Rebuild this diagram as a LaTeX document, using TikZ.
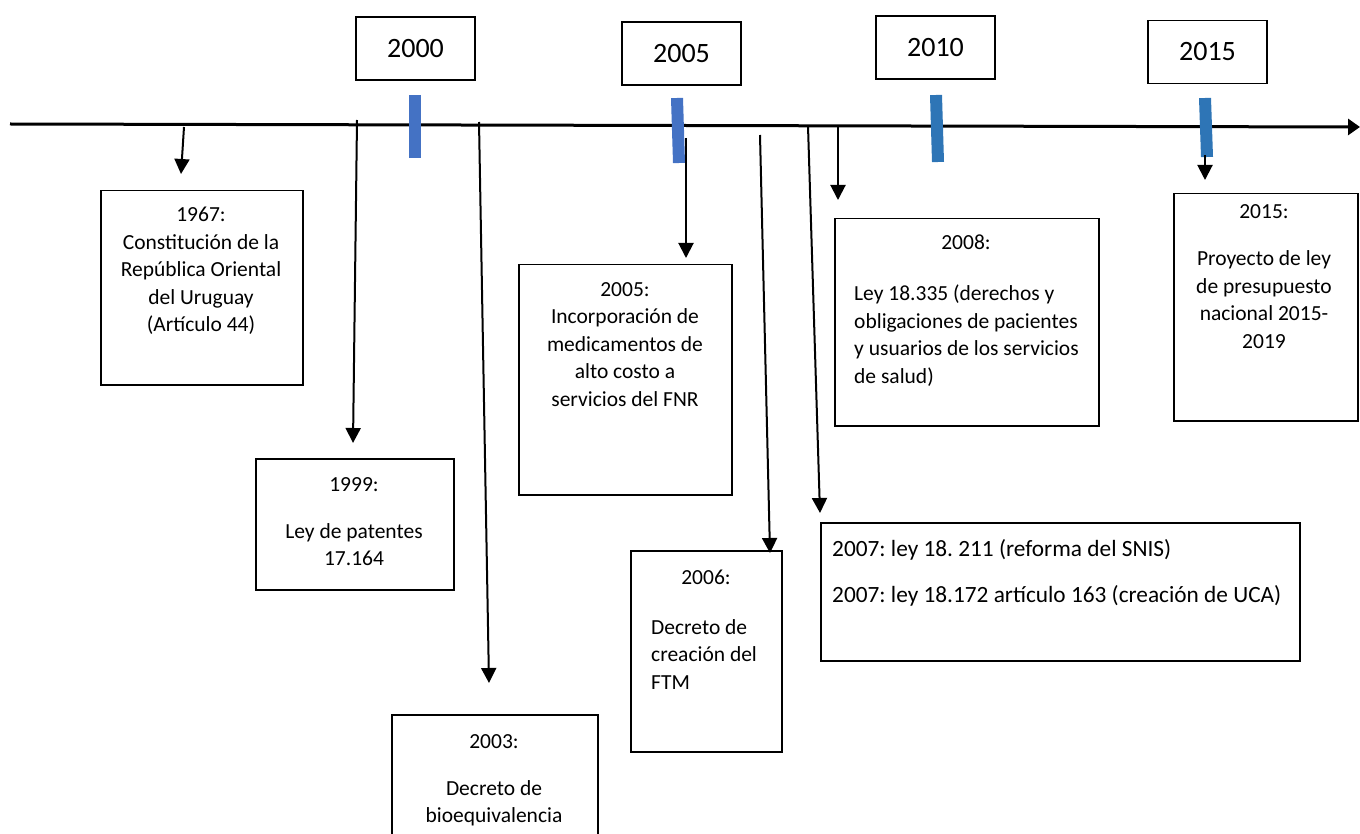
\documentclass[tikz,border=0pt]{standalone}
\usepackage{fontspec}
\setmainfont{Carlito}
\usetikzlibrary{arrows.meta,positioning}
\definecolor{tickblue}{HTML}{4472C4}
\definecolor{tickblueb}{HTML}{2E75B6}
\newcommand{\evfont}{\fontsize{21.5}{27.5}\selectfont}
\newcommand{\yrfont}{\fontsize{28}{32}\selectfont}
\frenchspacing

\begin{document}
\begin{tikzpicture}[x=1pt, y=-1pt,
    yearbox/.style={draw, line width=1.5pt, minimum width=119pt, minimum height=63pt, font=\yrfont},
    evbox/.style={draw, line width=1.5pt, anchor=north west, inner sep=0pt},
    evtext/.style={anchor=north, inner sep=0pt, align=center, font=\evfont},
    evleft/.style={anchor=north west, inner sep=0pt, align=left, font=\evfont},
    pointer/.style={line width=2pt, -{Triangle[length=15pt, width=15pt]}},
    tickbar/.style={line width=12pt}
]
\useasboundingbox (0,0) rectangle (1360,834);

% Time axis
\coordinate (ax0) at (10,124);
\coordinate (ax1) at (1360,127);
\draw[line width=3pt, -{Triangle[length=12pt, width=16pt]}] (ax0) -- (ax1);

% Year boxes and their marks on the axis
\node[yearbox] (y00) at (415.5,48.5) {2000};
\node[yearbox] (y05) at (681.5,53.5) {2005};
\node[yearbox] (y10) at (935.5,47.5) {2010};
\node[yearbox] (y15) at (1207.5,52) {2015};
\draw[tickbar, tickblue] (415,95) -- (415,158);
\draw[tickbar, tickblue] (677,98) -- (679,163);
\draw[tickbar, tickblueb] (936,95) -- (938,162);
\draw[tickbar, tickblueb] (1205,98) -- (1207,157);

% Event boxes
\node[evbox, minimum width=202pt, minimum height=194pt] (b67) at (100,190) {};
\node[evbox, minimum width=198pt, minimum height=131pt] (b99) at (255,458) {};
\node[evbox, minimum width=206pt, minimum height=160pt] (b03) at (391,714) {};
\node[evbox, minimum width=213pt, minimum height=230pt] (b05) at (518,264) {};
\node[evbox, minimum width=151pt, minimum height=201pt] (b06) at (630,550) {};
\node[evbox, minimum width=479pt, minimum height=138pt] (b07) at (820,522) {};
\node[evbox, minimum width=264pt, minimum height=207pt] (b08) at (834,218) {};
\node[evbox, minimum width=184pt, minimum height=227pt] (b15) at (1173,193) {};

% Texts of the events
\node[evtext] (t67) at (201,207) {1967:\\Constitución de la\\República Oriental\\del Uruguay\\(Artículo 44)};
\node[evtext] (t99) at (354,477) {1999:\\[19.5pt]Ley de patentes\\17.164};
\node[evtext] (t03) at (494,734) {2003:\\[19.5pt]Decreto de\\bioequivalencia};
\node[evtext] (t05) at (625,282) {2005:\\Incorporación de\\medicamentos de\\alto costo a\\servicios del FNR};
\node[evtext] (t06) at (706,570) {2006:};
\node[evleft] (t06b) at (651,619) {Decreto de\\creación del\\FTM};
\node[evleft, font=\fontsize{23.3}{28}\selectfont] (t07) at (832,539) {2007: ley 18. 211 (reforma del SNIS)\\[18.5pt]2007: ley 18.172 artículo 163 (creación de UCA)};
\node[evtext] (t08) at (966,235) {2008:};
\node[evleft] (t08b) at (854,285) {Ley 18.335 (derechos y\\obligaciones de pacientes\\y usuarios de los servicios\\de salud)};
\node[evtext] (t15) at (1264,204) {2015:\\[20pt]Proyecto de ley\\de presupuesto\\nacional 2015-\\2019};

% Pointers from the axis
\coordinate (s67) at (184,127);  \coordinate (e67) at (181,174);
\coordinate (s99) at (357,120);  \coordinate (e99) at (353,443);
\coordinate (s03) at (479,122);  \coordinate (e03) at (489,683);
\coordinate (s05) at (686,138);  \coordinate (e05) at (686,258);
\coordinate (s06) at (760,135);  \coordinate (e06) at (770,553);
\coordinate (s07) at (808,126);  \coordinate (e07) at (820,513);
\coordinate (s08) at (838,127);  \coordinate (e08) at (838,200);
\coordinate (s15) at (1205,155); \coordinate (e15) at (1205,180);
\draw[pointer] (s67) -- (e67);
\draw[pointer] (s99) -- (e99);
\draw[pointer] (s03) -- (e03);
\draw[pointer] (s05) -- (e05);
\draw[pointer] (s06) -- (e06);
\draw[pointer] (s07) -- (e07);
\draw[pointer] (s08) -- (e08);
\draw[pointer] (s15) -- (e15);

\end{tikzpicture}
\end{document}
